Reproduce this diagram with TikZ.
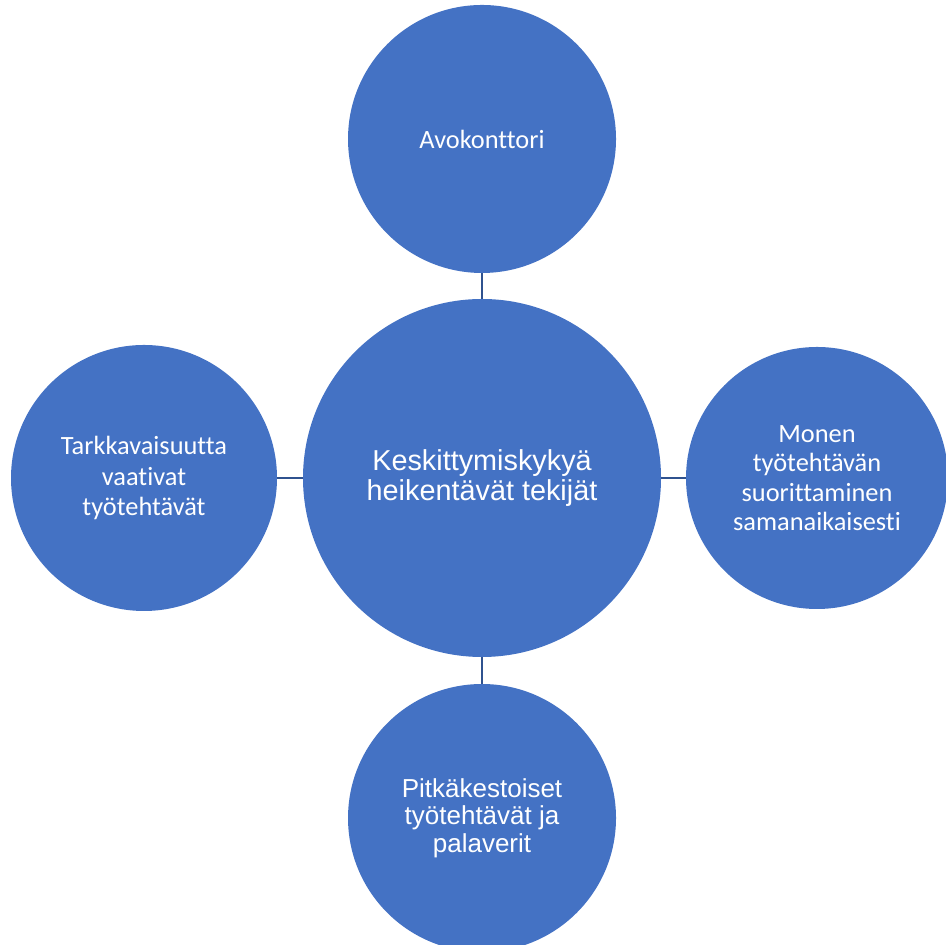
\documentclass[tikz,border=0pt]{standalone}
\usepackage{fontspec}
\newfontfamily\calibri[Ligatures=NoCommon]{Carlito}
\newfontfamily\arial{Liberation Sans}
\definecolor{bubbleblue}{RGB}{68,114,196}
\definecolor{linkblue}{RGB}{47,82,143}
\begin{document}
\begin{tikzpicture}
        [bubble/.style={circle,fill=bubbleblue,text=white,align=center,inner sep=0pt,outer sep=0pt},
         link/.style={draw=linkblue,line width=0.8pt}]
        \useasboundingbox (0,0) rectangle (9.45,9.45);

        \node[bubble,minimum size=3.58cm,font=\arial\fontsize{8.2}{8.45}\selectfont] (core) at (4.82,4.67) {Keskittymiskykyä\\heikentävät tekijät};
        \node[bubble,minimum size=2.68cm,font=\calibri\fontsize{7.5}{8.8}\selectfont] (top) at (4.82,8.06) {Avokonttori};
        \node[bubble,minimum size=2.66cm,font=\calibri\fontsize{7.5}{8.8}\selectfont] (left) at (1.44,4.67) {Tarkkavaisuutta\\vaativat\\työtehtävät};
        \node[bubble,minimum size=2.62cm,font=\calibri\fontsize{7.5}{8.4}\selectfont] (right) at (8.17,4.67) {Monen\\työtehtävän\\suorittaminen\\samanaikaisesti};
        \node[bubble,minimum size=2.68cm,font=\arial\fontsize{7.4}{7.8}\selectfont] (bottom) at (4.82,1.27) {Pitkäkestoiset\\työtehtävät ja\\palaverit};

        \draw[link] (core) -- (top);
        \draw[link] (core) -- (left);
        \draw[link] (core) -- (right);
        \draw[link] (core) -- (bottom);
      \end{tikzpicture}
\end{document}
